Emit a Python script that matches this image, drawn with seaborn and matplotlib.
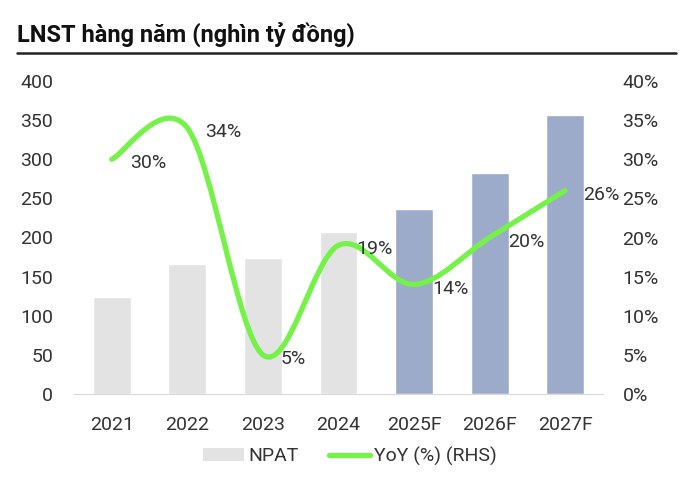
import matplotlib
matplotlib.use("Agg")
import matplotlib.pyplot as plt
import seaborn as sns
import pandas as pd
from matplotlib.path import Path
from matplotlib.patches import PathPatch, Patch
from matplotlib.lines import Line2D
from matplotlib.ticker import FuncFormatter

# data
years = ["2021", "2022", "2023", "2024", "2025F", "2026F", "2027F"]
npat = [124, 166, 174, 207, 236, 282, 357]
yoy = [30, 34, 5, 19, 14, 20, 26]
yoy_labels = ["30%", "34%", "5%", "19%", "14%", "20%", "26%"]

GRAY = "#E3E3E3"
BLUE = "#9DABCB"
GREEN = "#74F248"
TXT = "#333333"
FS = 14

sns.set_style("white")
plt.rcParams["font.family"] = ["Roboto", "DejaVu Sans"]

df = pd.DataFrame({"year": years, "npat": npat})
bar_colors = [GRAY] * 4 + [BLUE] * 3

fig = plt.figure(figsize=(7, 4.91), dpi=100)
ax = fig.add_axes([74 / 700, 97 / 491, 529 / 700, 313 / 491])

sns.barplot(data=df, x="year", y="npat", hue="year", palette=bar_colors,
            legend=False, width=0.5, saturation=1, ax=ax)
ax.set_ylim(0, 400)
ax.set_xlim(-0.5, 6.5)
ax.set_yticks(range(0, 401, 50))
ax.set_xlabel("")
ax.set_ylabel("")
for s in ["top", "right", "left"]:
    ax.spines[s].set_visible(False)
ax.spines["bottom"].set_color("#D9D9D9")
ax.tick_params(axis="both", length=0, labelsize=FS, colors=TXT)
ax.tick_params(axis="x", pad=16)
ax.tick_params(axis="y", pad=15)

ax2 = ax.twinx()
ax2.set_ylim(0, 40)
ax2.set_yticks(range(0, 41, 5))
ax2.yaxis.set_major_formatter(FuncFormatter(lambda v, p: f"{v:.0f}%"))
for s in ax2.spines.values():
    s.set_visible(False)
ax2.tick_params(axis="y", length=0, labelsize=FS, colors=TXT, pad=14)

# smoothed line (bezier through the points, Excel-style)
pts = list(zip(range(len(yoy)), yoy))
verts = [pts[0]]
codes = [Path.MOVETO]
n = len(pts)
for i in range(n - 1):
    p0 = pts[i - 1] if i > 0 else pts[i]
    p1 = pts[i]
    p2 = pts[i + 1]
    p3 = pts[i + 2] if i + 2 < n else pts[i + 1]
    c1 = (p1[0] + (p2[0] - p0[0]) / 6, p1[1] + (p2[1] - p0[1]) / 6)
    c2 = (p2[0] - (p3[0] - p1[0]) / 6, p2[1] - (p3[1] - p1[1]) / 6)
    verts += [c1, c2, p2]
    codes += [Path.CURVE4] * 3
ax2.add_patch(PathPatch(Path(verts, codes), facecolor="none", edgecolor=GREEN,
                        lw=3.8, capstyle="round", joinstyle="round"))

for i, (v, lab) in enumerate(zip(yoy, yoy_labels)):
    ax2.annotate(lab, (i, v), xytext=(13, -3), textcoords="offset points",
                 ha="left", va="center", fontsize=FS, color=TXT)

handles = [Patch(facecolor=GRAY, edgecolor="none"),
           Line2D([0], [0], color=GREEN, lw=3.8, solid_capstyle="round")]
fig.legend(handles, ["NPAT", "YoY (%) (RHS)"], loc="center",
           bbox_to_anchor=(350 / 700, 1 - 456 / 491), ncol=2, frameon=False,
           fontsize=FS, handlelength=2.1, handletextpad=0.2, columnspacing=1.6,
           labelcolor=TXT)

fig.text(17 / 700, 1 - 34 / 491, "LNST hàng năm (nghìn tỷ đồng)",
         fontsize=17, fontweight="bold", ha="left", va="center", color="#111111")
fig.add_artist(Line2D([17 / 700, 676 / 700], [1 - 53 / 491, 1 - 53 / 491],
                      color="#222222", lw=1.8, transform=fig.transFigure))

fig.savefig("out.png", dpi=100)
